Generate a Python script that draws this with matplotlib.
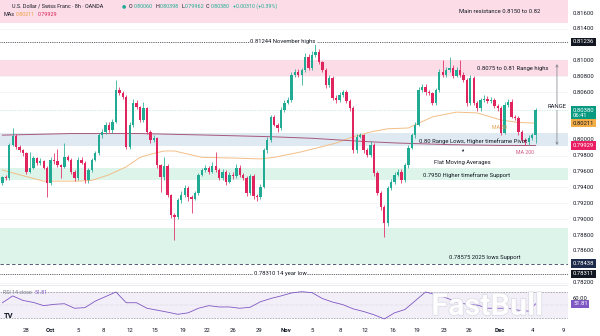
import matplotlib
matplotlib.use('Agg')
import matplotlib.pyplot as plt
import matplotlib.transforms as mtransforms
import matplotlib.patheffects as pe
import numpy as np

plt.rcParams['font.family'] = ['Roboto', 'DejaVu Sans']

# ---------------- data ----------------
first_open = 0.7946
closes = [0.7953, 0.7952, 0.7994, 0.8005, 0.7991, 0.7987, 0.7983, 0.7960, 0.7965, 0.7977,
          0.7971, 0.7973, 0.7965, 0.7946, 0.7975, 0.7973, 0.7968, 0.7966, 0.7978, 0.7975,
          0.7960, 0.7952, 0.7975, 0.7971, 0.7949, 0.7962, 0.7975, 0.7983, 0.8006, 0.8010,
          0.8019, 0.8012, 0.8023, 0.8063, 0.8059, 0.8054, 0.7991, 0.8019, 0.8047, 0.8041,
          0.8025, 0.8040, 0.8010, 0.8000, 0.8002, 0.7968, 0.7953, 0.7967, 0.7930, 0.7905,
          0.7903, 0.7924, 0.7930, 0.7939, 0.7928, 0.7926, 0.7933, 0.7956, 0.7962, 0.7965,
          0.7960, 0.7967, 0.7962, 0.7952, 0.7960, 0.7947, 0.7956, 0.7954, 0.7965, 0.7956,
          0.7952, 0.7933, 0.7954, 0.7929, 0.7928, 0.7941, 0.7987, 0.8000, 0.8029, 0.8019,
          0.8015, 0.8038, 0.8047, 0.8050, 0.8082, 0.8086, 0.8082, 0.8088, 0.8105, 0.8091,
          0.8107, 0.8111, 0.8098, 0.8088, 0.8069, 0.8078, 0.8053, 0.8050, 0.8057, 0.8060,
          0.8049, 0.8040, 0.7987, 0.8004, 0.8006, 0.7987, 0.7981, 0.7994, 0.7958, 0.7933,
          0.7915, 0.7895, 0.7939, 0.7947, 0.7956, 0.7960, 0.7949, 0.7968, 0.7990, 0.8006,
          0.8019, 0.8063, 0.8067, 0.8060, 0.8059, 0.8047, 0.8063, 0.8086, 0.8082, 0.8088,
          0.8091, 0.8081, 0.8088, 0.8082, 0.8076, 0.8047, 0.8078, 0.8047, 0.8040, 0.8050,
          0.8052, 0.8049, 0.8050, 0.8043, 0.8040, 0.8009, 0.8044, 0.8048, 0.8029, 0.8028,
          0.8010, 0.8000, 0.7997, 0.8003, 0.8006, 0.8038]
upper_pips = [2, 3, 2, 10, 2, 3, 2, 2, 20, 3,
              2, 4, 2, 2, 3, 8, 16, 2, 18, 3,
              2, 2, 3, 3, 2, 3, 2, 3, 3, 4,
              3, 3, 3, 13, 4, 3, 2, 3, 5, 3,
              2, 8, 2, 2, 4, 2, 2, 11, 3, 2,
              3, 3, 5, 4, 3, 3, 3, 2, 3, 3,
              2, 5, 18, 2, 3, 2, 3, 3, 4, 3,
              2, 2, 3, 3, 3, 3, 3, 4, 3, 3,
              2, 3, 3, 4, 3, 4, 3, 3, 4, 3,
              5, 13, 3, 2, 3, 4, 3, 3, 4, 3,
              3, 2, 3, 4, 3, 2, 3, 4, 2, 3,
              2, 3, 3, 4, 3, 3, 3, 3, 3, 3,
              3, 4, 4, 3, 3, 2, 3, 4, 15, 4,
              13, 3, 4, 13, 3, 2, 4, 3, 2, 3,
              4, 3, 4, 3, 2, 3, 4, 3, 3, 3,
              2, 3, 3, 3, 3, 2]
lower_pips = [3, 2, 2, 2, 2, 2, 3, 3, 2, 2,
              3, 3, 2, 18, 3, 3, 2, 14, 2, 2,
              3, 4, 2, 2, 3, 3, 2, 2, 2, 3,
              2, 2, 3, 2, 3, 2, 3, 3, 3, 2,
              3, 2, 3, 4, 3, 3, 19, 3, 2, 4,
              29, 3, 3, 2, 5, 18, 2, 3, 2, 3,
              3, 2, 3, 3, 2, 4, 2, 3, 2, 3,
              3, 4, 3, 3, 5, 2, 2, 3, 3, 2,
              5, 3, 3, 2, 2, 3, 3, 13, 3, 3,
              3, 3, 2, 3, 3, 2, 3, 4, 2, 3,
              2, 3, 3, 3, 2, 3, 3, 2, 3, 3,
              4, 18, 3, 2, 3, 2, 3, 2, 3, 2,
              3, 2, 3, 3, 2, 3, 3, 2, 3, 3,
              2, 3, 2, 3, 3, 4, 3, 3, 3, 3,
              2, 3, 3, 3, 3, 3, 2, 3, 2, 3,
              4, 3, 4, 3, 3, 10]

ma50_bars = [0, 5, 12, 22, 26, 31, 36, 40, 44, 47, 50, 53, 58, 68, 75, 79, 87, 97,
             102, 107, 112, 118, 125, 132, 138, 145, 150, 155]
ma50_vals = [0.7962, 0.7956, 0.7948, 0.7948, 0.7949, 0.7956, 0.7966, 0.7978, 0.7983,
             0.7986, 0.7986, 0.7983, 0.7978, 0.7977, 0.7976, 0.7978, 0.7985, 0.7996,
             0.8004, 0.8010, 0.8014, 0.8015, 0.8029, 0.8035, 0.8034, 0.8025, 0.8022, 0.80211]
ma200_bars = [0, 20, 40, 60, 78, 90, 105, 115, 130, 145, 155]
ma200_vals = [0.8006, 0.8008, 0.8008, 0.8006, 0.8004, 0.8002, 0.7998, 0.7996, 0.7994,
              0.7993, 0.79929]

rsi_bars = list(range(0, 154, 3)) + [155]
rsi_vals = [53.5, 64, 57, 54, 49, 51, 52, 45, 46, 56, 63, 70, 53.5, 53.5, 45, 42, 39,
            35.7, 38, 45, 49, 47, 47, 45, 46.5, 55, 60, 64, 68.5, 70.5, 69, 60, 54.5,
            50.5, 44, 40, 35, 28.5, 38, 43, 56.5, 70, 66, 61, 55, 51, 50, 45, 45, 45,
            42, 40.5, 51.81]

tick_labels = ['28', 'Oct', '5', '8', '12', '15', '19', '22', '26', '29', 'Nov',
               '5', '8', '12', '16', '19', '23', '26', 'Dec', '4', '9']
tick_pos = [6.9, 13.8, 22.0, 29.2, 37.1, 44.4, 52.5, 59.5, 67.0, 74.6, 82.4,
            90.0, 98.1, 105.4, 113.5, 120.5, 128.4, 135.6, 144.7, 154.0, 163.0]

axis_prices = [0.816, 0.814, 0.810, 0.808, 0.806, 0.800, 0.798, 0.796, 0.794,
               0.792, 0.790, 0.788, 0.786, 0.782]

# levels / zones
resist_zone = (0.8148, 0.8200)
range_high_zone = (0.8080, 0.8101)
range_low_zone = (0.7992, 0.8009)
support_zone = (0.7949, 0.7965)
lows_zone = (0.7844, 0.7889)
nov_high = 0.81236
low_dash = 0.78438
low_14y = 0.78311
last_price = 0.80380

# ---------------- styling ----------------
GREEN = '#22ab94'
RED = '#e0245e'
PINK = '#fcdde7'
BLUE = '#dfe9f1'
MINT = '#dcf4ea'
MA50_C = '#f3be86'
MA200_C = '#a8587a'
TXT = '#131722'
GREY = '#787b86'
PURPLE = '#7e57c2'

W, H = 600, 336
PW = 568
fig = plt.figure(figsize=(6, 3.36), dpi=100)
ax = fig.add_axes([0, 1 - 285 / H, PW / W, 285 / H])
rax = fig.add_axes([0, 1 - 323 / H, PW / W, 38 / H])

XMIN, XMAX = -0.7, 164.41
YMIN, YMAX = 0.78170, 0.81764
ax.set_xlim(XMIN, XMAX)
ax.set_ylim(YMIN, YMAX)
ax.set_axis_off()

# grid
for p in axis_prices:
    ax.axhline(p, color='#f1f2f6', lw=0.5, zorder=0)

# zones
for (zlo, zhi), zc in [(resist_zone, PINK), (range_high_zone, PINK), (range_low_zone, BLUE),
                       (support_zone, MINT), (lows_zone, MINT)]:
    ax.axhspan(zlo, zhi, color=zc, lw=0, zorder=0.5)

# level lines
ax.axhline(nov_high, color='#2a2e39', lw=0.6, ls=(0, (1, 1.2)), zorder=1)
ax.axhline(low_14y, color='#2a2e39', lw=0.6, ls=(0, (1, 1.2)), zorder=1)
ax.axhline(low_dash, color='#34405e', lw=0.6, ls=(0, (4, 3)), zorder=1)
ax.axhline(last_price, color=GREEN, lw=0.4, ls=(0, (1, 2)), alpha=0.6, zorder=1)

# moving averages
ax.plot(ma50_bars, ma50_vals, color=MA50_C, lw=0.7, zorder=3)
ax.plot(ma200_bars, ma200_vals, color=MA200_C, lw=0.7, zorder=3)

# candles
c = np.array(closes)
o = np.r_[first_open, c[:-1]]
hi = np.maximum(o, c) + np.array(upper_pips) * 1e-4
lo = np.minimum(o, c) - np.array(lower_pips) * 1e-4
idx = np.arange(len(c))
cols = np.where(c >= o, GREEN, RED)
ax.vlines(idx, lo, hi, colors=cols, lw=0.55, zorder=4)
body = np.maximum(np.abs(c - o), 0.00004)
ax.bar(idx, body, bottom=np.minimum(o, c), width=0.68, color=cols, lw=0, zorder=5)

# annotations
FS = 4.2
ax.text(144.6, 0.81613, 'Main resistance 0.8150 to 0.82', fontsize=FS, color=TXT,
        ha='center', va='center', zorder=6)
ax.text(81.6, nov_high, '0.81244 November highs', fontsize=FS, color=TXT, ha='center',
        va='center', zorder=6, bbox=dict(boxstyle='square,pad=0.15', fc='white', ec='none'))
ax.text(148.4, 0.80906, '0.8075 to 0.81 Range highs', fontsize=FS, color=TXT,
        ha='center', va='center', zorder=6)
ax.annotate('', xy=(161.2, 0.8099), xytext=(161.2, 0.7990),
            arrowprops=dict(arrowstyle='<->', color=GREY, lw=0.5, mutation_scale=4), zorder=6)
ax.text(161.2, 0.80415, 'RANGE', fontsize=FS, color=TXT, ha='center', va='center', zorder=7,
        bbox=dict(boxstyle='square,pad=0.15', fc='white', ec='none'))
ax.text(136.7, 0.79990, '0.80 Range Lows, Higher timeframe Pivot', fontsize=FS, color=TXT,
        ha='center', va='center', zorder=6)
ax.annotate('', xy=(134.9, 0.79900), xytext=(133.0, 0.79835),
            arrowprops=dict(arrowstyle='->', color=TXT, lw=0.4, mutation_scale=3), zorder=6)
ax.text(133.6, 0.79721, 'Flat Moving Averages', fontsize=FS, color=TXT, ha='center',
        va='center', zorder=6)
ax.text(144.6, 0.80150, 'MA 50', fontsize=3.8, color='#e8a150', ha='center', va='center', zorder=6)
ax.text(151.9, 0.79847, 'MA 200', fontsize=3.8, color='#d0567e', ha='center', va='center', zorder=6)
ax.text(134.8, 0.79557, '0.7950 Higher timeframe Support', fontsize=FS, color=TXT,
        ha='center', va='center', zorder=6)
ax.text(140.3, 0.78523, '0.78575 2025 lows Support', fontsize=FS, color=TXT, ha='center',
        va='center', zorder=6)
ax.text(80.7, low_14y, '0.78310 14 year low', fontsize=FS, color=TXT, ha='center',
        va='center', zorder=6, bbox=dict(boxstyle='square,pad=0.15', fc='white', ec='none'))

# right price scale
trans = mtransforms.blended_transform_factory(fig.transFigure, ax.transData)
LX = 573 / W
for p in axis_prices:
    ax.text(LX, p, f'{p:.5f}', transform=trans, fontsize=4.2, color=TXT, ha='left',
            va='center', clip_on=False)


def box_label(axis, y, s, fc, tc='white'):
    t = mtransforms.blended_transform_factory(fig.transFigure, axis.transData)
    axis.text(LX, y, s, transform=t, fontsize=4.2, color=tc, ha='left', va='center',
              clip_on=False, zorder=10, linespacing=1.1,
              bbox=dict(boxstyle='square,pad=0.3', fc=fc, ec='none'))


box_label(ax, nov_high, '0.81236', '#131722')
box_label(ax, 0.80336, '0.80380\n06:41', '#089981')
box_label(ax, 0.80211, '0.80211', '#f2ad48', TXT)
box_label(ax, 0.79929, '0.79929', '#e91e63')
box_label(ax, low_dash, '0.78438', '#1d2b4c')
box_label(ax, low_14y, '0.78311', '#131722')

# ---------------- RSI pane ----------------
rax.set_xlim(XMIN, XMAX)
rax.set_ylim(22.3, 80.8)
for s in rax.spines.values():
    s.set_visible(False)
rax.set_yticks([])
rax.axhspan(30, 70, color=PURPLE, alpha=0.09, lw=0)
rax.axhline(70, color=GREY, lw=0.4, ls=(0, (3, 2)))
rax.axhline(30, color=GREY, lw=0.4, ls=(0, (3, 2)))
rax.axhline(50, color=GREY, lw=0.3, ls=(0, (1, 2)), alpha=0.6)
rax.plot(rsi_bars, rsi_vals, color=PURPLE, lw=0.6, zorder=3)
rax.set_xticks(tick_pos)
rax.set_xticklabels(tick_labels, fontsize=4.3, color=TXT)
for lab in rax.get_xticklabels():
    if lab.get_text() in ('Oct', 'Nov', 'Dec'):
        lab.set_fontweight('bold')
rax.tick_params(axis='x', length=0, pad=3.5)
rax.axhline(80.8, color='#e0e3eb', lw=0.5)

rtrans = mtransforms.blended_transform_factory(fig.transFigure, rax.transData)
rax.text(LX, 60, '60.00', transform=rtrans, fontsize=4.2, color=TXT, ha='left',
         va='center', clip_on=False)
box_label(rax, 51.81, '51.81', PURPLE)
fig.text(3 / W, 1 - 293 / H, 'RSI 14 close', fontsize=3.8, color=GREY, ha='left', va='center')
fig.text(35 / W, 1 - 293 / H, '51.81', fontsize=3.8, color=PURPLE, ha='left', va='center')
fig.text(4 / W, 1 - 316 / H, 'TV', fontsize=5.5, color=TXT, fontweight='bold', ha='left',
         va='center')

# watermark
fig.text(487 / W, 1 - 306 / H, 'FastBull', fontsize=22, fontweight='bold', color='white',
         alpha=0.92, ha='center', va='center', zorder=20,
         path_effects=[pe.withStroke(linewidth=0.9, foreground='#d4d4de')])


# ---------------- header ----------------
def ft(xpx, ypx, s, color=TXT, fs=3.9, **kw):
    fig.text(xpx / W, 1 - ypx / H, s, fontsize=fs, color=color, ha='left', va='center', **kw)


ft(12, 6, 'U.S. Dollar / Swiss Franc · 8h · OANDA')
ft(122, 6, '●', color=GREEN, fs=3.5)
VG = '#22ab94'
ft(129, 6, 'O'); ft(133.5, 6, '0.80060', VG)
ft(155, 6, 'H'); ft(159.5, 6, '0.80398', VG)
ft(181, 6, 'L'); ft(184.5, 6, '0.79962', VG)
ft(206, 6, 'C'); ft(210.5, 6, '0.80380', VG)
ft(233, 6, '+0.00310 (+0.39%)', VG)
ft(3, 15, 'MAs')
ft(16, 15, '0.80211', '#f0a040')
ft(38, 15, '0.79929', '#e0245e')

fig.savefig('out.png', dpi=100, facecolor='white')
